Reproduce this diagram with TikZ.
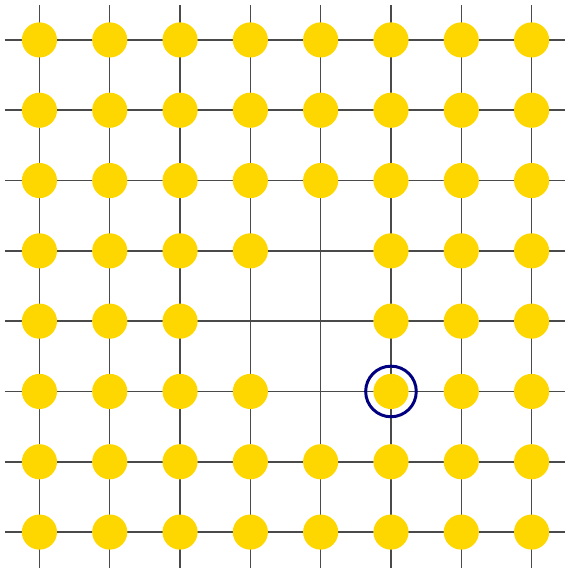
\documentclass[tikz,border=0pt]{standalone}
\usepackage{xcolor}
\usepackage{tikz}
\usetikzlibrary{positioning}

\definecolor{dotgold}{HTML}{FFD700}
\definecolor{gridgray}{HTML}{4A4A4A}
\definecolor{marknavy}{HTML}{000080}

\begin{document}
\begin{tikzpicture}[
    site/.style={circle, fill=dotgold, inner sep=0pt, minimum size=0.5cm},
    gridline/.style={gridgray, line width=0.6pt},
    marker/.style={circle, draw=marknavy, line width=1.2pt, inner sep=0pt, minimum size=0.72cm}
  ]
  % Frame
  \useasboundingbox (-0.561,-0.511) rectangle (7.479,7.568);

  % Lattice lines
  \foreach \i in {0,...,7} {
    \draw[gridline] (-0.49,\i) -- (7.479,\i);
    \draw[gridline] (\i,-0.511) -- (\i,7.497);
  }

  % Occupied sites (vacancies skipped)
  \foreach \x in {0,...,7} {
    \foreach \y in {0,...,7} {
      \ifnum\x=4 \ifnum\y>1 \ifnum\y<5 \else
        \node[site] (d-\x-\y) at (\x,\y) {};
      \fi \else
        \node[site] (d-\x-\y) at (\x,\y) {};
      \fi \else
        \ifnum\x=3 \ifnum\y=3 \else
          \node[site] (d-\x-\y) at (\x,\y) {};
        \fi \else
          \node[site] (d-\x-\y) at (\x,\y) {};
        \fi
      \fi
    }
  }

  % Highlighted site
  \node[marker] (mark) at (d-5-2) {};
\end{tikzpicture}
\end{document}
